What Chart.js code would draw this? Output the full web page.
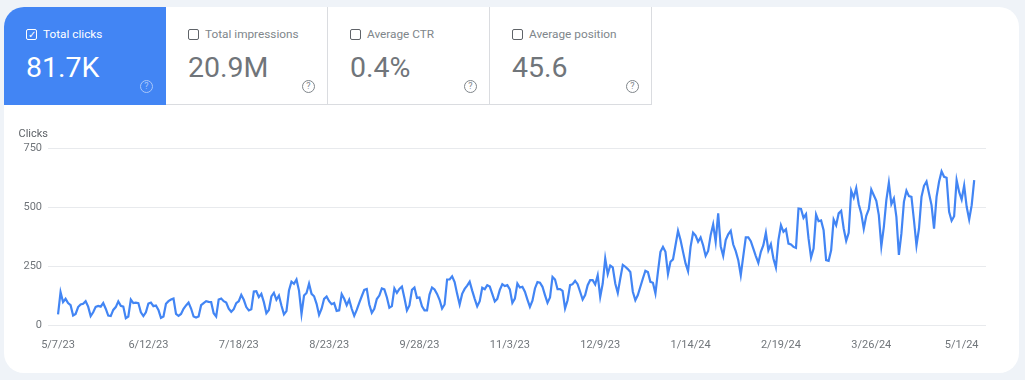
<!DOCTYPE html>
<html>
<head>
<meta charset="utf-8">
<script src="https://cdn.jsdelivr.net/npm/chart.js@4"></script>
<style>
  html, body { margin: 0; padding: 0; background: #eff3f8; font-family: Roboto, sans-serif; overflow: hidden; }
  #card { position: absolute; left: 4px; top: 7px; width: 1015px; height: 366px; background: #fff; border-radius: 20px; overflow: hidden; }
  .tile { position: absolute; top: 0; width: 162px; height: 98px; box-sizing: border-box; border-right: 1px solid #dadce0; border-bottom: 1px solid #dadce0; color: #70757a; }
  .tile.on { background: #4285f4; color: #fff; border: 0; }
  .box { position: absolute; left: 22px; top: 22px; width: 9px; height: 9px; border: 1.5px solid #5f6368; border-radius: 2px; }
  .on .box { border-color: #fff; color: #fff; font-size: 10px; line-height: 9px; text-align: center; }
  .name { position: absolute; left: 39px; top: 20px; font-size: 11.8px; line-height: 14px; color: #80868b; white-space: nowrap; }
  .on .name { color: #fff; }
  .val { position: absolute; left: 22px; top: 43px; font-size: 28.5px; line-height: 36px; white-space: nowrap; }
  .help { position: absolute; left: 136px; top: 73px; width: 11px; height: 11px; border: 1px solid #80868b; border-radius: 50%; font-size: 9px; line-height: 11px; text-align: center; color: #80868b; }
  .on .help { border-color: #a9c7fa; color: #a9c7fa; }
  #wrap { position: absolute; left: -4px; top: 113px; width: 1025px; height: 240px; }
</style>
</head>
<body>
<div id="card">
  <div class="tile on" style="left:0"><div class="box">&#10003;</div><div class="name">Total clicks</div><div class="val">81.7K</div><div class="help">?</div></div>
  <div class="tile" style="left:162px"><div class="box"></div><div class="name">Total impressions</div><div class="val">20.9M</div><div class="help">?</div></div>
  <div class="tile" style="left:324px"><div class="box"></div><div class="name">Average CTR</div><div class="val">0.4%</div><div class="help">?</div></div>
  <div class="tile" style="left:486px"><div class="box"></div><div class="name">Average position</div><div class="val">45.6</div><div class="help">?</div></div>
  <div id="wrap"><canvas id="chart" width="1025" height="240"></canvas></div>
</div>
<script>
// daily clicks, one row per ~20 days
const clicks = [
  47,141,99,113,95,86,42,49,78,89,92,103,80,40,56,79,83,80,95,71,
  42,40,66,78,102,83,80,31,38,110,95,97,95,56,40,56,93,97,82,85,
  66,32,38,92,103,110,114,49,41,49,71,85,97,72,38,34,38,86,95,103,
  100,99,52,38,110,114,103,97,71,58,69,95,103,130,109,78,64,69,144,145,
  120,134,99,52,66,123,138,109,127,85,47,61,148,186,177,195,148,49,127,138,
  177,134,124,92,45,71,113,123,103,90,95,62,64,133,113,86,109,71,41,66,
  96,124,151,155,89,54,71,112,127,157,153,120,75,82,157,138,155,165,117,64,
  85,151,161,117,119,81,64,64,131,161,153,134,109,72,89,195,195,208,184,134,
  89,134,155,169,186,148,113,81,103,160,154,171,165,134,102,113,151,175,167,171,
  153,96,114,178,161,164,143,110,79,105,157,184,181,164,129,96,119,206,195,154,
  154,147,72,107,171,175,189,175,143,110,129,171,192,192,174,213,121,178,284,218,
  254,246,178,138,199,257,249,239,227,143,107,129,164,199,232,227,185,181,136,227,
  312,333,312,218,270,280,340,401,362,312,263,230,333,393,381,355,373,340,295,316,
  383,428,355,475,336,295,362,386,401,343,315,277,213,294,373,373,357,326,294,265,
  312,340,393,319,345,284,246,362,425,397,408,347,343,333,329,496,494,456,472,369,
  288,326,470,442,445,404,277,274,319,449,425,475,486,411,359,393,571,542,582,514,
  475,410,465,493,576,552,528,468,336,418,531,605,514,538,460,299,390,524,571,548,
  545,446,339,411,545,592,610,559,510,410,545,609,653,630,626,482,444,463,616,566,
  534,593,503,449,510,616
];
const xTickLabels = ["5/7/23","6/12/23","7/18/23","8/23/23","9/28/23","11/3/23","12/9/23","1/14/24","2/19/24","3/26/24","5/1/24"];
const yTicks = [0, 250, 500, 750];
const daysPerTick = 36;

new Chart(document.getElementById("chart"), {
  type: "line",
  data: {
    datasets: [{
      label: "Clicks",
      data: clicks.map((v, i) => ({ x: i, y: v })),
      borderColor: "#4285f4",
      borderWidth: 2.2,
      pointRadius: 0,
      tension: 0,
    }],
  },
  options: {
    responsive: false,
    animation: false,
    layout: { padding: { left: 18.5, right: 39, top: 0, bottom: 0 } },
    plugins: {
      legend: { display: false },
      tooltip: { enabled: false },
      title: {
        display: true,
        text: "Clicks",
        align: "start",
        color: "#5f6368",
        font: { family: "Roboto", size: 11, weight: "normal", lineHeight: 1 },
        padding: { top: 9, bottom: 8.5 },
      },
    },
    scales: {
      x: {
        type: "linear",
        min: -4,
        max: 369.7,
        afterBuildTicks: (axis) => { axis.ticks = xTickLabels.map((_, i) => ({ value: i * daysPerTick })); },
        afterFit: (axis) => { axis.height = 34.5; },
        ticks: {
          autoSkip: false,
          maxRotation: 0,
          color: "#70757a",
          font: { family: "Roboto", size: 11 },
          padding: 5,
          callback: (v) => xTickLabels[v / daysPerTick],
        },
        grid: { display: false },
        border: { display: false },
      },
      y: {
        min: 0,
        max: 750,
        afterBuildTicks: (axis) => { axis.ticks = yTicks.map((v) => ({ value: v })); },
        afterFit: (axis) => { axis.width = 29.5; },
        ticks: { color: "#70757a", font: { family: "Roboto", size: 11 }, padding: 6 },
        grid: { color: "#e8eaed", drawTicks: false },
        border: { display: false },
      },
    },
  },
});
</script>
</body>
</html>
